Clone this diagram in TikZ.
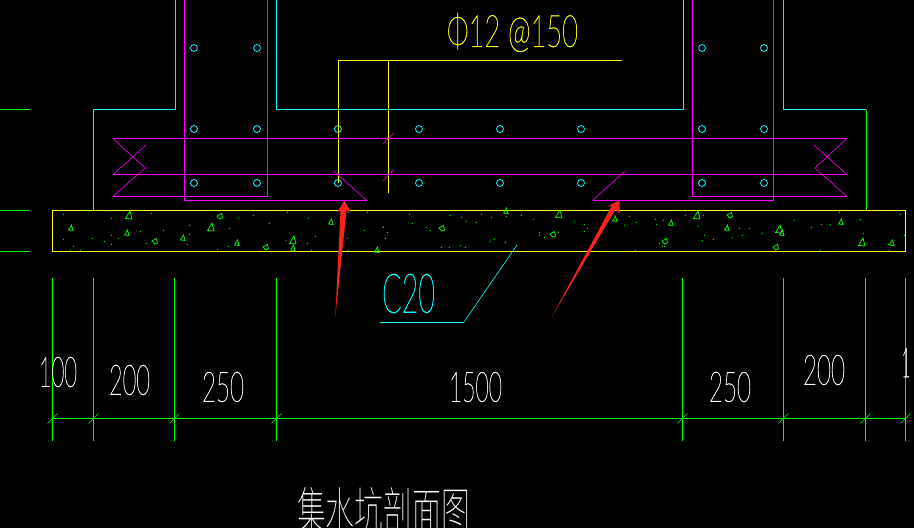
\documentclass[tikz,border=0pt]{standalone}
\usepackage{fontspec}
\usepackage{graphicx}
\newfontfamily\cad[FakeBold=1.2]{Lato Hairline}
\IfFontExistsTF{Noto Sans CJK SC Thin}{\newfontfamily\cjk{Noto Sans CJK SC Thin}}{\IfFontExistsTF{Noto Sans CJK SC Light}{\newfontfamily\cjk{Noto Sans CJK SC Light}}{\newfontfamily\cjk{Noto Sans CJK SC}}}
\definecolor{cadcyan}{RGB}{0,255,255}
\definecolor{cadmag}{RGB}{255,0,255}
\definecolor{cadyel}{RGB}{255,255,0}
\definecolor{cadgrn}{RGB}{0,255,0}
\definecolor{arrowred}{RGB}{250,35,25}
\tikzset{
  ln/.style={line width=0.9pt},
  thinln/.style={line width=0.6pt},
  hatchln/.style={line width=0.75pt},
  bar/.style={circle,draw=cadcyan,line width=0.8pt,minimum size=7pt,inner sep=0pt},
  txt/.style={inner sep=0pt,outer sep=0pt,anchor=center},
}
\newcommand{\fit}[3]{\resizebox*{#1pt}{#2pt}{\cad #3}}
\begin{document}
\begin{tikzpicture}[x=1pt,y=-1pt]
\useasboundingbox (0,0) rectangle (914,528);
\clip (0,0) rectangle (914,528);
\fill[black] (0,0) rectangle (914,528);
% walls
\draw[ln,cadcyan] (93.5,210) -- (93.5,109.5) -- (175,109.5) -- (175,0);
\draw[ln,cadcyan] (276.5,0) -- (276.5,109.5) -- (683,109.5) -- (683,0);
\draw[ln,cadcyan] (783.5,0) -- (783.5,109.5) -- (866,109.5);
\draw[ln,cadgrn] (866,109.5) -- (866,210);
\draw[ln,cadgrn] (0,109.5) -- (30,109.5) (0,210.5) -- (29,210.5) (0,251.5) -- (30,251.5);
% rebars
\foreach \x in {194,257,702,764} \node[bar] at (\x,48) {};
\foreach \x in {194,257,338,419,500,581,702,764} {\node[bar] at (\x,129) {}; \node[bar] at (\x,183) {};}
% yellow leader
\draw[ln,cadyel] (338.5,183) -- (338.5,60.5) -- (622,60.5);
\draw[ln,cadyel] (388.5,60.5) -- (388.5,193);
% magenta
\draw[ln,cadmag] (113,138.5) -- (847,138.5) (113,174.5) -- (847,174.5);
\draw[ln,cadmag] (184.5,0) -- (184.5,200.5) -- (367,200.5);
\draw[ln,cadmag] (267,0) -- (267,196.5) -- (113,196.5);
\draw[ln,cadmag] (692.5,0) -- (692.5,196.5) -- (847,196.5);
\draw[ln,cadmag] (773.5,0) -- (773.5,200.5) -- (592.5,200.5);
\draw[thinln,cadmag] (367,200.5) -- (333.5,171) (592.5,200.5) -- (625,171);
\draw[thinln,cadmag] (113,138.5) -- (145,168) -- (113,196.5) (113,174.5) -- (146,145);
\draw[thinln,cadmag] (847,138.5) -- (815,168) -- (847,196.5) (847,174.5) -- (814,145);
\draw[thinln,cadmag] (383,144) -- (394,133) (383,181) -- (394,169.5);
% slab
\draw[ln,cadyel] (52.5,210.5) rectangle (905.5,251.5);
% aggregate: larger triangles
\foreach \x/\y in {129/215,211/227,293/240,559/214,697/215,779/229,862/242}
  \draw[hatchln,cadgrn] (\x-3.5,\y+3.5) -- (\x+3,\y+4) -- (\x+1,\y-4) -- cycle;
% aggregate: small triangles
\foreach \x/\y in {71/228,127/233,331/222,183/238,237/243,293/248,615/219,671/223,727/228,782/233,841/222,892/243,377/250,506/211}
  \draw[hatchln,cadgrn] (\x-2.5,\y+2) -- (\x+2,\y+2.5) -- (\x+0.5,\y-3) -- cycle;
% aggregate: rounded pebbles
\foreach \x/\y in {220/216,155/241,266/247,553/234,730/215,665/241,776/247,442/228}
  \draw[hatchln,cadgrn] (\x-3,\y) -- (\x+1.5,\y-2.5) -- (\x+2.5,\y+2) -- (\x-0.5,\y+3) -- cycle;
% aggregate dots
\foreach \p/\q in {190/343,265/333,334/355,454/340,490/391,568/376,715/355,760/346,808/370,862/337,925/355,688/385,1102/337,1150/382,1162/397,1093/391,946/409,1042/415,1156/415,922/430,858/421,685/439,652/448,562/433,568/403,439/430,421/394,355/415,334/406,334/433,313/424,277/415,190/418,220/439,211/451,241/451,934/451,1045/451,1132/451,1045/337,328/333}
  \fill[cadgrn] ({\p/3},{100+\q/3}) circle (0.6);
\foreach \p/\q in {64/346,100/358,136/333,223/364,253/373,262/385,253/394,118/397,118/406,133/412,175/397,16/427,388/349,373/376,409/367,466/358,469/373,490/361,556/346,610/346,595/379,613/406,607/421,640/418,697/412,718/385,727/406,748/385,787/400,883/361,934/382,964/373,991/373,1018/337,1081/358,1090/400,1201/343,1213/406,1165/433,1081/436,478/430,487/439,493/439,343/454,406/451,961/451,1018/454,1168/451,1144/454,19/333,30/331}
  \fill[cadgrn] ({500+\p/3},{100+\q/3}) circle (0.6);
\foreach \p/\q in {118/28,40/67,52/82,46/100,127/55,169/67,181/76,241/31,274/37,289/49,319/52,334/28,364/37,409/34,454/31,361/109,373/103,406/112,214/127,238/127,271/121,286/127}
  \fill[cadgrn] ({370+\p/3},{205+\q/3}) circle (0.6);
% C20 leader
\draw[ln,cadcyan] (380,322) -- (464,322);
\draw[thinln,cadcyan] (464,322) -- (517,245);
% dimensions
\foreach \x in {52.5,93.5,174.5,276.5,682.5,783.5,865.5,905.5} {
  \draw[ln,cadgrn] (\x,278) -- (\x,440.5);
  \draw[thinln,cadgrn] (\x-5,423.5) -- (\x+5,413.5);
}
\draw[ln,cadgrn] (52.5,418.5) -- (905.5,418.5);
% texts
\node[txt,cadyel] (rebar) at (512.5,32.5) {\fit{131}{39}{Φ12 @150}};
\node[txt,cadcyan] (conc) at (408.5,293.5) {\fit{53}{39}{C20}};
\node[txt,white] (d1) at (58,372) {\fit{38}{30}{100}};
\node[txt,white] (d2) at (129.5,380) {\fit{41}{30}{200}};
\node[txt,white] (d3) at (223,387) {\fit{42}{30}{250}};
\node[txt,white] (d4) at (475.5,387) {\fit{53}{30}{1500}};
\node[txt,white] (d5) at (730,387) {\fit{42}{30}{250}};
\node[txt,white] (d6) at (824,370) {\fit{42}{30}{200}};
\node[txt,white] (d7) at (906,362.5) {\fit{9}{29}{1}};
\node[txt,white,anchor=north west] (title) at (297,487) {\resizebox*{173pt}{46pt}{\cjk 集水坑剖面图}};
% red arrows
\fill[arrowred] (344.5,200.5) -- (350.7,211.5) -- (346.5,211) -- (335.3,317) -- (340.5,211) -- (337.5,211.5) -- cycle;
\fill[arrowred] (619.5,200.5) -- (619.5,213) -- (615.5,209.5) -- (551.7,317) -- (611.5,206.5) -- (608,206) -- cycle;
\end{tikzpicture}
\end{document}
